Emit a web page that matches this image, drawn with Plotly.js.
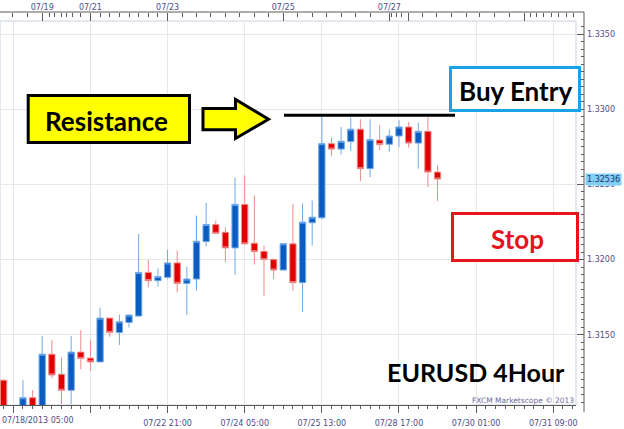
<!DOCTYPE html>
<html>
<head>
<meta charset="utf-8">
<script src="https://cdn.plot.ly/plotly-3.0.1.min.js"></script>
<style>
html,body{margin:0;padding:0;background:#fff;}
#chart{width:624px;height:429px;}
</style>
</head>
<body>
<div id="chart"></div>
<script>
// ---- Data (EURUSD 4H candles) ----
const openP  = [1.31198,1.30980,1.30990,1.31082,1.30990,1.31371,1.31238,1.31131,1.31385,1.31345,
                1.31320,1.31611,1.31515,1.31582,1.31625,1.31915,1.31860,1.31882,1.31978,1.31842,
                1.31871,1.32120,1.32233,1.32182,1.32078,1.32367,1.32109,1.32055,1.32000,1.31931,
                1.32105,1.31847,1.32245,1.32278,1.32771,1.32735,1.32785,1.32867,1.32605,1.32795,
                1.32767,1.32822,1.32882,1.32775,1.32853,1.32582];
const highP  = [1.31205,1.31010,1.31198,1.31133,1.31493,1.31464,1.31349,1.31493,1.31531,1.31469,
                1.31678,1.31615,1.31633,1.31637,1.32171,1.31998,1.31942,1.32065,1.32060,1.31953,
                1.32293,1.32378,1.32260,1.32215,1.32545,1.32560,1.32427,1.32093,1.32009,1.32108,
                1.32371,1.32373,1.32393,1.32960,1.32811,1.32882,1.32945,1.32933,1.32933,1.32893,
                1.32865,1.32927,1.32915,1.32911,1.32949,1.32627];
const lowP   = [1.30920,1.30900,1.30970,1.30960,1.30970,1.31210,1.31038,1.31038,1.31271,1.31260,
                1.31315,1.31487,1.31433,1.31549,1.31620,1.31815,1.31820,1.31873,1.31782,1.31633,
                1.31793,1.32087,1.32171,1.31982,1.31900,1.32100,1.31967,1.31760,1.31871,1.31928,
                1.31793,1.31653,1.32093,1.32267,1.32687,1.32700,1.32722,1.32522,1.32549,1.32727,
                1.32715,1.32749,1.32745,1.32605,1.32482,1.32389];
const closeP = [1.30980,1.30960,1.31082,1.30990,1.31371,1.31233,1.31131,1.31385,1.31342,1.31320,
                1.31611,1.31515,1.31587,1.31631,1.31915,1.31860,1.31887,1.31978,1.31842,1.31871,
                1.32122,1.32233,1.32175,1.32078,1.32367,1.32105,1.32053,1.32000,1.31931,1.32105,
                1.31847,1.32249,1.32282,1.32771,1.32735,1.32787,1.32867,1.32605,1.32798,1.32765,
                1.32822,1.32882,1.32775,1.32853,1.32582,1.32536];
const candleIdx = openP.map((_, i) => i);

const bottomTickIdx    = [1, 9, 17, 25, 33, 41, 49, 57];
const bottomTickLabels = ['', '', '07/22 21:00', '07/24 05:00', '07/25 13:00', '07/28 17:00', '07/30 01:00', '07/31 09:00'];
const firstBottomLabel = '07/18/2013 05:00';
const topTickIdx    = [4, 9, 17, 29, 40, 42, 54];
const topTickLabels = ['07/19', '07/21', '07/23', '07/25', '07/27', '', ''];
const topMinorIdx = [0.9, 2.45, 4.73, 5.32, 5.95, 6.54, 7.16, 7.92,
                     10, 11, 12, 13, 14, 15, 16,
                     18.5, 20, 21.5, 23, 24.5, 26, 27.5,
                     30.5, 32, 33.5, 35, 36.5, 38,
                     40.25, 40.76, 41.28,
                     43.4, 44.9, 46.45, 48, 49.4, 50.95, 52.45,
                     54.6, 55.3, 55.98, 56.85, 57.53, 58.4, 59.08];
const resistanceLevel = 1.3296;
const lastPrice = 1.32536;

// ---- Geometry helpers (pixel -> paper) ----
const W = 624, H = 429, ML = 0, MR = 40, MT = 12, MB = 24;
const PW = W - ML - MR, PH = H - MT - MB;
const pxX = x => (x - ML) / PW;
const pxY = y => (H - MB - y) / PH;
const P = (x, y) => pxX(x).toFixed(5) + ',' + pxY(y).toFixed(5);
const rectPath = (x0, y0, x1, y1) => 'M' + P(x0, y0) + ' L' + P(x1, y0) + ' L' + P(x1, y1) + ' L' + P(x0, y1) + ' Z';

const xRange = [-0.3796, 59.36];
const yRange = [1.310333, 1.335867];
const tickFont = {family: 'DejaVu Sans', size: 8, color: '#4e4e88'};
const axisCol = '#5a5a5a';
const gridCol = '#e7e7e7';

const trace = {
  type: 'candlestick',
  x: candleIdx, open: openP, high: highP, low: lowP, close: closeP,
  xaxis: 'x', yaxis: 'y',
  increasing: {line: {color: '#6ea8e6', width: 1}, fillcolor: '#0a5cc0'},
  decreasing: {line: {color: '#f08a8a', width: 1}, fillcolor: '#e00000'},
  whiskerwidth: 0,
  hoverinfo: 'skip'
};
const dummy2 = {type: 'scatter', x: [], y: [], xaxis: 'x2', yaxis: 'y2', hoverinfo: 'skip', showlegend: false};

const bigFont = (c) => ({family: 'Lato, "Open Sans", sans-serif', size: 26, color: c, weight: 'bold'});

const layout = {
  width: W, height: H,
  margin: {l: ML, r: MR, t: MT, b: MB, pad: 0},
  paper_bgcolor: '#ffffff', plot_bgcolor: '#ffffff',
  showlegend: false,
  boxgap: 0.35, boxgroupgap: 0,
  xaxis: {
    domain: [0, 576 / PW], anchor: 'y', range: xRange, type: 'linear',
    rangeslider: {visible: false},
    tickmode: 'array', tickvals: bottomTickIdx, ticktext: bottomTickLabels,
    ticks: 'outside', ticklen: 7, tickcolor: axisCol, tickwidth: 1,
    minor: {tickmode: 'linear', tick0: 0, dtick: 1, ticks: 'outside', ticklen: 3, tickcolor: axisCol, showgrid: false},
    showline: true, linecolor: axisCol, linewidth: 1,
    showgrid: true, gridcolor: gridCol, gridwidth: 1, zeroline: false,
    tickfont: tickFont, ticklabelstandoff: 3, fixedrange: true
  },
  xaxis2: {
    overlaying: 'x', side: 'top', anchor: 'free', position: 1, range: xRange, type: 'linear',
    tickmode: 'array', tickvals: topTickIdx, ticktext: topTickLabels,
    ticks: 'inside', ticklen: 8, tickcolor: axisCol, tickwidth: 1,
    minor: {tickmode: 'array', tickvals: topMinorIdx, ticks: 'inside', ticklen: 4, tickcolor: axisCol, showgrid: false},
    showline: false, showgrid: false, zeroline: false,
    tickfont: tickFont, fixedrange: true
  },
  yaxis: {
    domain: [0, pxY(21)], anchor: 'x', range: yRange, side: 'right',
    tickmode: 'linear', tick0: 1.3150, dtick: 0.005,
    showticklabels: false, ticks: '', showline: false,
    showgrid: true, gridcolor: gridCol, gridwidth: 1, zeroline: false, fixedrange: true
  },
  yaxis2: {
    overlaying: 'y', side: 'right', anchor: 'free', position: 1, range: yRange,
    tickmode: 'linear', tick0: 1.3150, dtick: 0.005, tickformat: '.4f',
    ticks: 'inside', ticklen: 7, tickcolor: axisCol, tickwidth: 1,
    minor: {tickmode: 'linear', tick0: 1.3150, dtick: 0.0005, ticks: 'inside', ticklen: 3, tickcolor: axisCol, showgrid: false},
    showline: false, showgrid: false, zeroline: false,
    tickfont: tickFont, ticklabelstandoff: 2, fixedrange: true
  },
  shapes: [
    // plot-area border
    {type: 'rect', xref: 'x domain', yref: 'y domain', x0: 0, x1: 1, y0: 0, y1: 1,
     line: {color: '#c8d2e2', width: 1}, layer: 'below'},
    // outer frame: top and right axis lines
    {type: 'line', xref: 'paper', yref: 'paper', x0: 0, x1: 1, y0: 1, y1: 1, line: {color: axisCol, width: 1}},
    {type: 'line', xref: 'paper', yref: 'paper', x0: 1, x1: 1, y0: pxY(412), y1: 1, line: {color: axisCol, width: 1}},
    // resistance level line
    {type: 'line', xref: 'paper', yref: 'y', x0: pxX(284), x1: pxX(455), y0: resistanceLevel, y1: resistanceLevel,
     line: {color: '#000000', width: 3}},
    // Resistance box
    {type: 'path', xref: 'paper', yref: 'paper', path: rectPath(28.2, 95.5, 189.5, 142.5),
     fillcolor: '#ffff00', line: {color: '#000000', width: 3}},
    // yellow arrow
    {type: 'path', xref: 'paper', yref: 'paper',
     path: 'M' + P(203, 108.5) + ' L' + P(235.5, 108.5) + ' L' + P(235.5, 99.5) + ' L' + P(268.5, 119.3) +
           ' L' + P(235.5, 138.5) + ' L' + P(235.5, 129.8) + ' L' + P(203, 129.8) + ' Z',
     fillcolor: '#ffff00', line: {color: '#000000', width: 3}},
    // Buy Entry box
    {type: 'path', xref: 'paper', yref: 'paper', path: rectPath(450.5, 67.5, 579.5, 110.5),
     fillcolor: '#ffffff', line: {color: '#1aa2e6', width: 3}},
    // Stop box
    {type: 'path', xref: 'paper', yref: 'paper', path: rectPath(452.5, 213.5, 577.5, 260.5),
     fillcolor: '#ffffff', line: {color: '#e8141c', width: 3}}
  ],
  annotations: [
    {xref: 'paper', yref: 'paper', x: pxX(0), y: pxY(421), xanchor: 'left', yanchor: 'middle',
     text: firstBottomLabel, showarrow: false, font: tickFont},
    {xref: 'paper', yref: 'paper', x: pxX(106), y: pxY(121), xanchor: 'center', yanchor: 'middle',
     text: 'Resistance', showarrow: false, font: bigFont('#000000')},
    {xref: 'paper', yref: 'paper', x: pxX(515), y: pxY(91), xanchor: 'center', yanchor: 'middle',
     text: 'Buy Entry', showarrow: false, font: bigFont('#000000')},
    {xref: 'paper', yref: 'paper', x: pxX(517), y: pxY(239), xanchor: 'center', yanchor: 'middle',
     text: 'Stop', showarrow: false, font: bigFont('#e8141c')},
    {xref: 'paper', yref: 'paper', x: pxX(476), y: pxY(372), xanchor: 'center', yanchor: 'middle',
     text: 'EURUSD 4Hour', showarrow: false, font: {family: 'Lato, "Open Sans", sans-serif', size: 25, color: '#000000', weight: 'bold'}},
    {xref: 'paper', yref: 'paper', x: pxX(576), y: pxY(400.5), xanchor: 'right', yanchor: 'middle',
     text: 'FXCM Marketscope © 2013', showarrow: false, font: {family: 'DejaVu Sans', size: 7.5, color: '#6a6a9a'}},
    {xref: 'paper', yref: 'y', x: 1, y: lastPrice, xanchor: 'left', yanchor: 'middle', xshift: 1,
     text: lastPrice.toFixed(5), showarrow: false, bgcolor: '#80cff5', borderpad: 1,
     font: {family: 'DejaVu Sans', size: 8, color: '#23336b'}}
  ]
};

Plotly.newPlot('chart', [trace, dummy2], layout, {staticPlot: true, displayModeBar: false});
</script>
</body>
</html>
